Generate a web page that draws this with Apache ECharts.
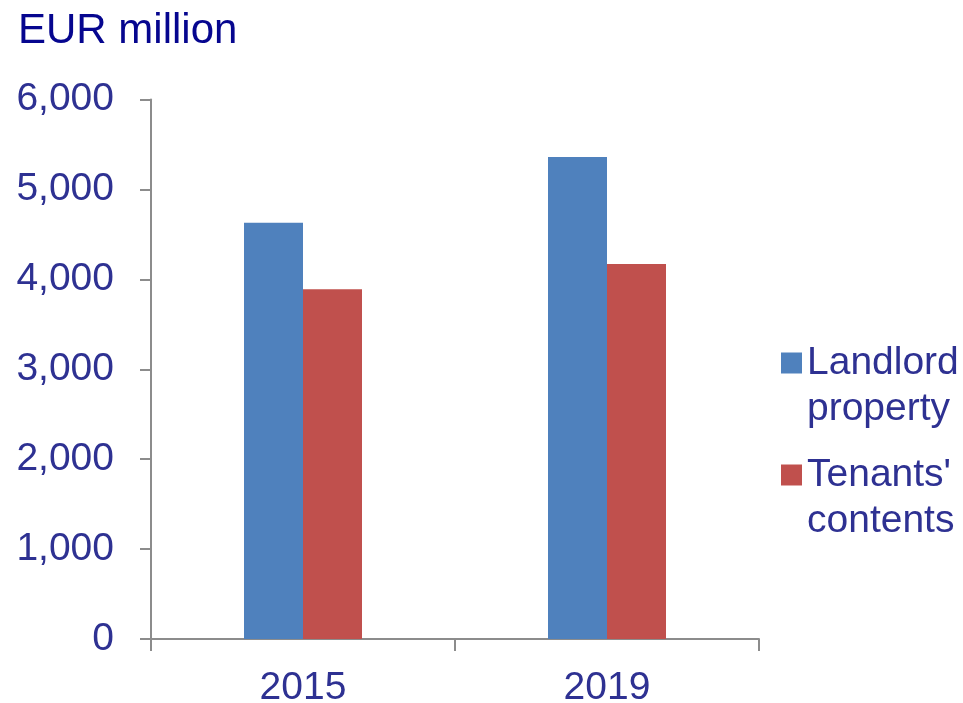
<!DOCTYPE html>
<html>
<head>
<meta charset="utf-8">
<script src="https://cdn.jsdelivr.net/npm/echarts@6/dist/echarts.min.js"></script>
<style>html,body{margin:0;padding:0;background:#fff}#c{width:963px;height:703px}</style>
</head>
<body>
<div id="c"></div>
<script>
const categories = ['2015', '2019'];
const landlordProperty = [4630, 5360];
const tenantsContents = [3890, 4170];
const seriesNames = ['Landlord\nproperty', "Tenants'\ncontents"];
const yTicks = [0, 1000, 2000, 3000, 4000, 5000, 6000];

const textColor = '#2E3192';
const axisColor = '#8C8C8C';
const chart = echarts.init(document.getElementById('c'), null, {renderer: 'canvas'});
chart.setOption({
  animation: false,
  backgroundColor: '#ffffff',
  title: {
    text: 'EUR million',
    left: 13, top: 5,
    textStyle: {fontFamily: 'Liberation Sans', fontSize: 42, fontWeight: 'normal', color: '#06068F'}
  },
  grid: {left: 151, right: 204, top: 99.5, bottom: 64, containLabel: false, outerBoundsMode: 'none'},
  legend: {
    orient: 'vertical',
    left: 776, top: 289,
    itemWidth: 21, itemHeight: 21, itemGap: -26,
    icon: 'rect',
    formatter: function (n) { return '\n' + n; },
    textStyle: {fontFamily: 'Liberation Sans', fontSize: 39, color: textColor, lineHeight: 46},
    data: seriesNames
  },
  xAxis: {
    type: 'category',
    data: categories,
    axisLine: {lineStyle: {color: axisColor, width: 2}},
    axisTick: {show: true, length: 12, alignWithLabel: false, lineStyle: {color: axisColor, width: 2}},
    axisLabel: {margin: 30, fontFamily: 'Liberation Sans', fontSize: 39, color: textColor}
  },
  yAxis: {
    type: 'value',
    min: yTicks[0], max: yTicks[yTicks.length - 1], interval: 1000,
    axisLine: {show: true, lineStyle: {color: axisColor, width: 2}},
    axisTick: {show: true, length: 11, lineStyle: {color: axisColor, width: 2}},
    splitLine: {show: false},
    axisLabel: {
      margin: 37, fontFamily: 'Liberation Sans', fontSize: 39, color: textColor,
      formatter: function (v) { return v.toLocaleString('en-US'); }
    }
  },
  series: [
    {name: seriesNames[0], type: 'bar', data: landlordProperty, barWidth: 59, barGap: '0%',
     itemStyle: {color: '#4F81BD'}},
    {name: seriesNames[1], type: 'bar', data: tenantsContents, barWidth: 59, barGap: '0%',
     itemStyle: {color: '#C0504D'}}
  ]
});
</script>
</body>
</html>
